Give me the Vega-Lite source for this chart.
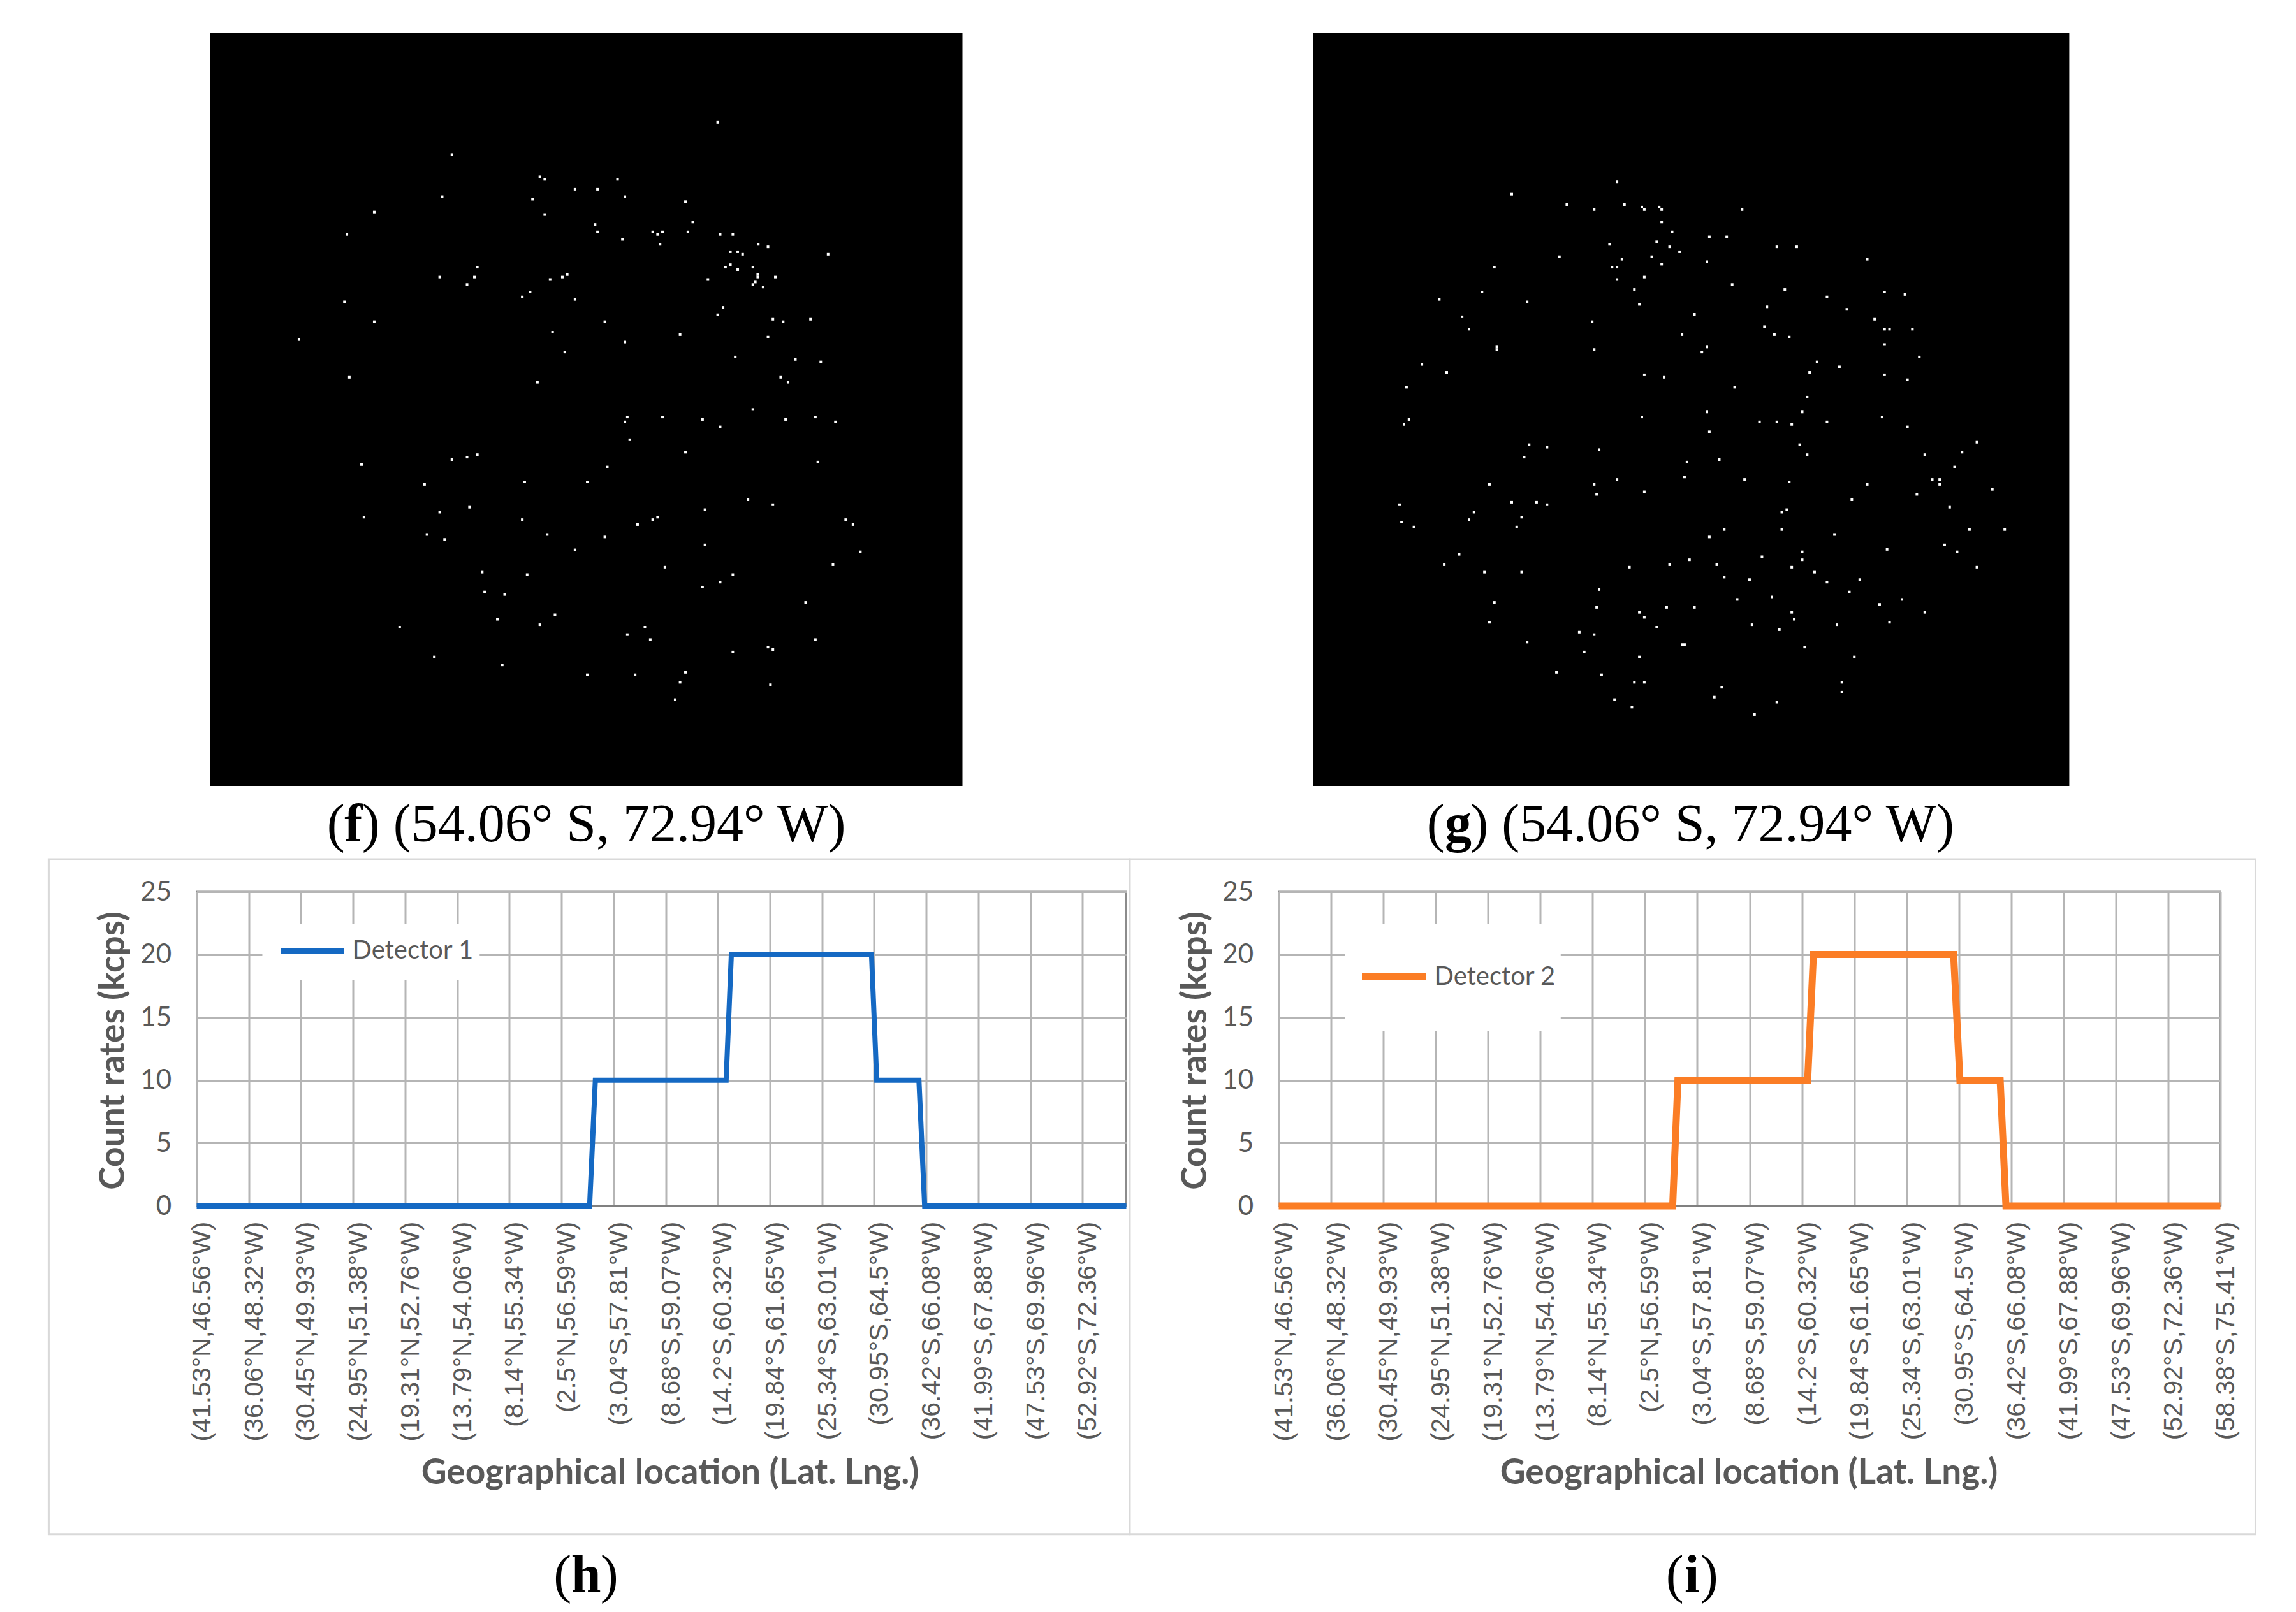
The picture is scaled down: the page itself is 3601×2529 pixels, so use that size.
{"$schema":"https://vega.github.io/schema/vega-lite/v6.json","background":"#ffffff","padding":{"left":72.5,"top":51,"right":60,"bottom":20},"bounds":"flush","columns":2,"spacing":{"row":166,"column":239},"config":{"view":{"stroke":null}},"resolve":{"scale":{"color":"independent","x":"independent","y":"independent"},"legend":{"color":"independent"}},
"concat":[
{"width":1458,"height":1182,"layer":[
{"data":{"values":[{"panel":"f"}]},"mark":{"type":"rect","color":"#000000"},"encoding":{"x":{"datum":12,"type":"quantitative","axis":null,"scale":{"domain":[-15.4,1887.4]}},"x2":{"datum":1552},"y":{"datum":14,"type":"quantitative","axis":null,"scale":{"domain":[1533,14]}},"y2":{"datum":1533}}},
{"data":{"values":[{"x":1051,"y":195},{"x":507,"y":260},{"x":687,"y":305},{"x":697,"y":310},{"x":846,"y":310},{"x":759,"y":330},{"x":805,"y":330},{"x":487,"y":345},{"x":861,"y":345},{"x":672,"y":350},{"x":985,"y":355},{"x":348,"y":376},{"x":697,"y":381},{"x":1000,"y":396},{"x":800,"y":401},{"x":805,"y":416},{"x":918,"y":416},{"x":938,"y":416},{"x":990,"y":416},{"x":928,"y":421},{"x":292,"y":421},{"x":1056,"y":421},{"x":1082,"y":421},{"x":856,"y":431},{"x":933,"y":441},{"x":1134,"y":441},{"x":1154,"y":446},{"x":1077,"y":456},{"x":1092,"y":456},{"x":1102,"y":461},{"x":1277,"y":461},{"x":1077,"y":482},{"x":1067,"y":487},{"x":1123,"y":487},{"x":559,"y":487},{"x":1092,"y":492},{"x":743,"y":502},{"x":1133,"y":502},{"x":1133,"y":507},{"x":482,"y":507},{"x":553,"y":507},{"x":733,"y":507},{"x":1169,"y":507},{"x":708,"y":512},{"x":1031,"y":512},{"x":1128,"y":517},{"x":538,"y":522},{"x":1123,"y":522},{"x":1144,"y":527},{"x":667,"y":537},{"x":651,"y":547},{"x":759,"y":552},{"x":287,"y":557},{"x":1062,"y":568},{"x":1051,"y":583},{"x":1164,"y":592},{"x":1241,"y":592},{"x":348,"y":597},{"x":820,"y":597},{"x":1185,"y":597},{"x":713,"y":618},{"x":974,"y":623},{"x":1154,"y":628},{"x":194,"y":633},{"x":861,"y":638},{"x":738,"y":658},{"x":1087,"y":668},{"x":1210,"y":673},{"x":1262,"y":678},{"x":297,"y":709},{"x":1180,"y":709},{"x":1195,"y":719},{"x":682,"y":719},{"x":1123,"y":774},{"x":866,"y":789},{"x":938,"y":789},{"x":1251,"y":789},{"x":1020,"y":794},{"x":1190,"y":794},{"x":861,"y":799},{"x":1292,"y":799},{"x":1056,"y":809},{"x":871,"y":835},{"x":985,"y":860},{"x":559,"y":865},{"x":538,"y":870},{"x":507,"y":875},{"x":1256,"y":880},{"x":322,"y":885},{"x":825,"y":890},{"x":656,"y":920},{"x":784,"y":920},{"x":451,"y":925},{"x":1113,"y":956},{"x":1164,"y":966},{"x":543,"y":971},{"x":1025,"y":976},{"x":482,"y":981},{"x":327,"y":991},{"x":928,"y":991},{"x":651,"y":996},{"x":918,"y":996},{"x":1313,"y":996},{"x":887,"y":1006},{"x":1328,"y":1006},{"x":456,"y":1026},{"x":702,"y":1026},{"x":820,"y":1031},{"x":492,"y":1036},{"x":1025,"y":1047},{"x":759,"y":1057},{"x":1343,"y":1061},{"x":1287,"y":1087},{"x":943,"y":1092},{"x":569,"y":1102},{"x":661,"y":1107},{"x":1082,"y":1107},{"x":1056,"y":1122},{"x":1020,"y":1132},{"x":574,"y":1142},{"x":615,"y":1147},{"x":1231,"y":1163},{"x":718,"y":1188},{"x":600,"y":1197},{"x":687,"y":1208},{"x":400,"y":1213},{"x":902,"y":1213},{"x":866,"y":1228},{"x":913,"y":1238},{"x":1251,"y":1238},{"x":1154,"y":1253},{"x":1164,"y":1258},{"x":1082,"y":1263},{"x":471,"y":1273},{"x":610,"y":1289},{"x":985,"y":1304},{"x":784,"y":1309},{"x":882,"y":1309},{"x":974,"y":1324},{"x":1159,"y":1329},{"x":964,"y":1359}]},"mark":{"type":"square","color":"#ffffff","size":16,"opacity":1},"encoding":{"x":{"field":"x","type":"quantitative","axis":null,"scale":{"domain":[-15.4,1887.4]}},"y":{"field":"y","type":"quantitative","axis":null,"scale":{"domain":[1533,14]}}}},
{"data":{"values":[{"part":"("}]},"mark":{"type":"text","font":"Liberation Serif","fontSize":84,"color":"#000000","align":"left","baseline":"middle"},"encoding":{"x":{"datum":251,"type":"quantitative","axis":null,"scale":{"domain":[-15.4,1887.4]}},"y":{"datum":1613,"type":"quantitative","axis":null,"scale":{"domain":[1533,14]}},"text":{"field":"part"}}},
{"data":{"values":[{"part":"f"}]},"mark":{"type":"text","font":"Liberation Serif","fontWeight":"bold","fontSize":84,"color":"#000000","align":"left","baseline":"middle"},"encoding":{"x":{"datum":287,"type":"quantitative","axis":null,"scale":{"domain":[-15.4,1887.4]}},"y":{"datum":1613,"type":"quantitative","axis":null,"scale":{"domain":[1533,14]}},"text":{"field":"part"}}},
{"data":{"values":[{"part":") (54.06° S, 72.94° W)"}]},"mark":{"type":"text","font":"Liberation Serif","fontSize":84,"color":"#000000","align":"left","baseline":"middle"},"encoding":{"x":{"datum":323,"type":"quantitative","axis":null,"scale":{"domain":[-15.4,1887.4]}},"y":{"datum":1613,"type":"quantitative","axis":null,"scale":{"domain":[1533,14]}},"text":{"field":"part"}}}
]},
{"width":1477,"height":1182,"layer":[
{"data":{"values":[{"panel":"g"}]},"mark":{"type":"rect","color":"#000000"},"encoding":{"x":{"datum":12,"type":"quantitative","axis":null,"scale":{"domain":[-57.4,1839.5]}},"x2":{"datum":1535},"y":{"datum":14,"type":"quantitative","axis":null,"scale":{"domain":[1533,14]}},"y2":{"datum":1533}}},
{"data":{"values":[{"x":624,"y":315},{"x":412,"y":340},{"x":523,"y":361},{"x":639,"y":361},{"x":578,"y":371},{"x":674,"y":366},{"x":679,"y":371},{"x":709,"y":366},{"x":714,"y":371},{"x":876,"y":371},{"x":714,"y":396},{"x":735,"y":416},{"x":810,"y":426},{"x":845,"y":426},{"x":704,"y":436},{"x":609,"y":441},{"x":730,"y":446},{"x":946,"y":446},{"x":986,"y":446},{"x":750,"y":456},{"x":694,"y":466},{"x":508,"y":466},{"x":634,"y":471},{"x":1128,"y":471},{"x":805,"y":476},{"x":714,"y":481},{"x":377,"y":487},{"x":614,"y":487},{"x":624,"y":487},{"x":679,"y":507},{"x":624,"y":512},{"x":856,"y":522},{"x":659,"y":532},{"x":962,"y":532},{"x":352,"y":537},{"x":1163,"y":537},{"x":1204,"y":542},{"x":1047,"y":547},{"x":266,"y":552},{"x":443,"y":557},{"x":669,"y":562},{"x":926,"y":567},{"x":1087,"y":572},{"x":780,"y":582},{"x":312,"y":587},{"x":1143,"y":592},{"x":574,"y":597},{"x":921,"y":607},{"x":326,"y":612},{"x":1163,"y":612},{"x":1173,"y":612},{"x":1219,"y":612},{"x":755,"y":623},{"x":941,"y":623},{"x":971,"y":628},{"x":1163,"y":643},{"x":382,"y":648},{"x":382,"y":653},{"x":578,"y":653},{"x":805,"y":648},{"x":795,"y":658},{"x":1233,"y":668},{"x":1027,"y":678},{"x":231,"y":683},{"x":1072,"y":688},{"x":281,"y":699},{"x":1012,"y":699},{"x":679,"y":704},{"x":1163,"y":704},{"x":719,"y":709},{"x":1209,"y":714},{"x":200,"y":729},{"x":861,"y":729},{"x":1007,"y":749},{"x":805,"y":779},{"x":997,"y":779},{"x":674,"y":789},{"x":1158,"y":789},{"x":205,"y":794},{"x":195,"y":804},{"x":911,"y":799},{"x":946,"y":799},{"x":1047,"y":799},{"x":976,"y":804},{"x":1209,"y":809},{"x":810,"y":819},{"x":1349,"y":840},{"x":992,"y":845},{"x":447,"y":845},{"x":483,"y":850},{"x":588,"y":855},{"x":1319,"y":860},{"x":1007,"y":865},{"x":1244,"y":865},{"x":437,"y":870},{"x":830,"y":875},{"x":765,"y":880},{"x":1304,"y":890},{"x":760,"y":910},{"x":624,"y":915},{"x":881,"y":915},{"x":1259,"y":915},{"x":1274,"y":915},{"x":971,"y":920},{"x":367,"y":925},{"x":578,"y":925},{"x":1128,"y":925},{"x":1274,"y":925},{"x":1380,"y":935},{"x":679,"y":940},{"x":583,"y":945},{"x":1228,"y":945},{"x":1097,"y":956},{"x":412,"y":961},{"x":462,"y":961},{"x":186,"y":966},{"x":483,"y":966},{"x":1294,"y":971},{"x":966,"y":976},{"x":956,"y":981},{"x":336,"y":981},{"x":432,"y":991},{"x":326,"y":996},{"x":190,"y":1001},{"x":215,"y":1011},{"x":422,"y":1011},{"x":840,"y":1016},{"x":956,"y":1016},{"x":1334,"y":1016},{"x":1405,"y":1016},{"x":1062,"y":1026},{"x":810,"y":1031},{"x":1284,"y":1047},{"x":997,"y":1061},{"x":1168,"y":1056},{"x":1309,"y":1061},{"x":306,"y":1066},{"x":916,"y":1071},{"x":770,"y":1077},{"x":997,"y":1077},{"x":276,"y":1087},{"x":730,"y":1087},{"x":825,"y":1087},{"x":649,"y":1092},{"x":976,"y":1092},{"x":1349,"y":1092},{"x":357,"y":1102},{"x":432,"y":1102},{"x":1022,"y":1102},{"x":840,"y":1112},{"x":891,"y":1117},{"x":1113,"y":1117},{"x":1047,"y":1122},{"x":588,"y":1137},{"x":1092,"y":1142},{"x":936,"y":1152},{"x":866,"y":1157},{"x":1198,"y":1157},{"x":377,"y":1163},{"x":1153,"y":1167},{"x":583,"y":1173},{"x":724,"y":1173},{"x":780,"y":1173},{"x":669,"y":1183},{"x":976,"y":1183},{"x":1244,"y":1183},{"x":679,"y":1193},{"x":981,"y":1197},{"x":367,"y":1203},{"x":1173,"y":1203},{"x":896,"y":1208},{"x":1067,"y":1208},{"x":704,"y":1213},{"x":951,"y":1218},{"x":548,"y":1223},{"x":578,"y":1228},{"x":443,"y":1243},{"x":755,"y":1248},{"x":760,"y":1248},{"x":1002,"y":1253},{"x":558,"y":1263},{"x":669,"y":1273},{"x":1102,"y":1273},{"x":502,"y":1304},{"x":593,"y":1309},{"x":659,"y":1324},{"x":679,"y":1324},{"x":1077,"y":1324},{"x":835,"y":1334},{"x":1077,"y":1344},{"x":820,"y":1354},{"x":619,"y":1359},{"x":946,"y":1364},{"x":654,"y":1374},{"x":901,"y":1389}]},"mark":{"type":"square","color":"#ffffff","size":16,"opacity":1},"encoding":{"x":{"field":"x","type":"quantitative","axis":null,"scale":{"domain":[-57.4,1839.5]}},"y":{"field":"y","type":"quantitative","axis":null,"scale":{"domain":[1533,14]}}}},
{"data":{"values":[{"part":"("}]},"mark":{"type":"text","font":"Liberation Serif","fontSize":84,"color":"#000000","align":"left","baseline":"middle"},"encoding":{"x":{"datum":241,"type":"quantitative","axis":null,"scale":{"domain":[-57.4,1839.5]}},"y":{"datum":1613,"type":"quantitative","axis":null,"scale":{"domain":[1533,14]}},"text":{"field":"part"}}},
{"data":{"values":[{"part":"g"}]},"mark":{"type":"text","font":"Liberation Serif","fontWeight":"bold","fontSize":84,"color":"#000000","align":"left","baseline":"middle"},"encoding":{"x":{"datum":277,"type":"quantitative","axis":null,"scale":{"domain":[-57.4,1839.5]}},"y":{"datum":1613,"type":"quantitative","axis":null,"scale":{"domain":[1533,14]}},"text":{"field":"part"}}},
{"data":{"values":[{"part":") (54.06° S, 72.94° W)"}]},"mark":{"type":"text","font":"Liberation Serif","fontSize":84,"color":"#000000","align":"left","baseline":"middle"},"encoding":{"x":{"datum":329,"type":"quantitative","axis":null,"scale":{"domain":[-57.4,1839.5]}},"y":{"datum":1613,"type":"quantitative","axis":null,"scale":{"domain":[1533,14]}},"text":{"field":"part"}}}
]},
{"width":1458,"height":493,"view":{"stroke":"#8c8c8c","strokeWidth":3},"layer":[
{"data":{"values":[{"panel":"h"}]},"mark":{"type":"rect","fillOpacity":0,"stroke":"#d9d9d9","strokeWidth":3},"encoding":{"x":{"datum":-2.84,"type":"quantitative","scale":{"domain":[0,17.84]}},"x2":{"datum":17.906},"y":{"datum":27.59,"type":"quantitative","scale":{"domain":[0,25]}},"y2":{"datum":-26.1}}},
{"data":{"values":[{"panel":"h"}]},"mark":{"type":"rect","color":"#ffffff"},"encoding":{"x":{"datum":1.26,"type":"quantitative","scale":{"domain":[0,17.84]}},"x2":{"datum":5.43},"y":{"datum":22.46,"type":"quantitative","scale":{"domain":[0,25]}},"y2":{"datum":18.0}}},
{"data":{"values":[{"pos":0,"rate":0,"detector":"Detector 1"},{"pos":7.54,"rate":0,"detector":"Detector 1"},{"pos":7.65,"rate":10,"detector":"Detector 1"},{"pos":10.16,"rate":10,"detector":"Detector 1"},{"pos":10.26,"rate":20,"detector":"Detector 1"},{"pos":12.95,"rate":20,"detector":"Detector 1"},{"pos":13.05,"rate":10,"detector":"Detector 1"},{"pos":13.86,"rate":10,"detector":"Detector 1"},{"pos":13.97,"rate":0,"detector":"Detector 1"},{"pos":17.84,"rate":0,"detector":"Detector 1"}]},"mark":{"type":"line","strokeWidth":8},"encoding":{"x":{"field":"pos","type":"quantitative","scale":{"domain":[0,17.84]},"axis":{"values":[0,1,2,3,4,5,6,7,8,9,10,11,12,13,14,15,16,17],"labelExpr":"['(41.53°N,46.56°W)','(36.06°N,48.32°W)','(30.45°N,49.93°W)','(24.95°N,51.38°W)','(19.31°N,52.76°W)','(13.79°N,54.06°W)','(8.14°N,55.34°W)','(2.5°N,56.59°W)','(3.04°S,57.81°W)','(8.68°S,59.07°W)','(14.2°S,60.32°W)','(19.84°S,61.65°W)','(25.34°S,63.01°W)','(30.95°S,64.5°W)','(36.42°S,66.08°W)','(41.99°S,67.88°W)','(47.53°S,69.96°W)','(52.92°S,72.36°W)'][datum.value]","labelAngle":-90,"labelFont":"Liberation Sans","labelFontSize":41,"labelColor":"#595959","labelPadding":24,"labelOffset":9,"labelOverlap":false,"labelFlush":false,"labelBound":false,"labelLimit":0,"ticks":false,"grid":true,"gridColor":"#b5b5b5","gridWidth":3,"domainColor":"#808080","domainWidth":3,"title":"Geographical location (Lat. Lng.)","titleFont":"Lato","titleFontWeight":"bold","titleFontSize":55,"titleColor":"#595959","titleX":742,"titleY":418,"titleBaseline":"middle"}},"y":{"field":"rate","type":"quantitative","scale":{"domain":[0,25]},"axis":{"values":[0,5,10,15,20,25],"labelFont":"Lato","labelFontSize":42,"labelColor":"#595959","labelPadding":40,"ticks":false,"domain":false,"grid":true,"gridColor":"#b5b5b5","gridWidth":3,"title":"Count rates (kcps)","titleFont":"Lato","titleFontWeight":"bold","titleFontSize":55,"titleColor":"#595959","titleX":-131,"titleY":249,"titleBaseline":"middle"}},"color":{"field":"detector","type":"nominal","scale":{"domain":["Detector 1"],"range":["#1569c3"]},"legend":{"orient":"none","legendX":127,"legendY":38,"title":null,"symbolType":"stroke","symbolSize":10000,"symbolStrokeWidth":9,"labelFont":"Lato","labelFontSize":40,"labelColor":"#595959","labelOffset":8,"labelLimit":400,"padding":0}}}},
{"data":{"values":[{"part":"("}]},"mark":{"type":"text","font":"Liberation Serif","fontSize":84,"color":"#000000","align":"center","baseline":"middle"},"encoding":{"x":{"datum":7.02,"type":"quantitative","scale":{"domain":[0,17.84]}},"y":{"datum":-29.46,"type":"quantitative","scale":{"domain":[0,25]}},"text":{"field":"part"}}},
{"data":{"values":[{"part":"h"}]},"mark":{"type":"text","font":"Liberation Serif","fontWeight":"bold","fontSize":84,"color":"#000000","align":"center","baseline":"middle"},"encoding":{"x":{"datum":7.47,"type":"quantitative","scale":{"domain":[0,17.84]}},"y":{"datum":-29.46,"type":"quantitative","scale":{"domain":[0,25]}},"text":{"field":"part"}}},
{"data":{"values":[{"part":")"}]},"mark":{"type":"text","font":"Liberation Serif","fontSize":84,"color":"#000000","align":"center","baseline":"middle"},"encoding":{"x":{"datum":7.92,"type":"quantitative","scale":{"domain":[0,17.84]}},"y":{"datum":-29.46,"type":"quantitative","scale":{"domain":[0,25]}},"text":{"field":"part"}}}
]},
{"width":1477,"height":493,"view":{"stroke":"#8c8c8c","strokeWidth":3},"layer":[
{"data":{"values":[{"panel":"i"}]},"mark":{"type":"rect","fillOpacity":0,"stroke":"#d9d9d9","strokeWidth":3},"encoding":{"x":{"datum":-2.85,"type":"quantitative","scale":{"domain":[0,18]}},"x2":{"datum":18.67},"y":{"datum":27.59,"type":"quantitative","scale":{"domain":[0,25]}},"y2":{"datum":-26.1}}},
{"data":{"values":[{"panel":"i"}]},"mark":{"type":"rect","color":"#ffffff"},"encoding":{"x":{"datum":1.27,"type":"quantitative","scale":{"domain":[0,18]}},"x2":{"datum":5.39},"y":{"datum":22.46,"type":"quantitative","scale":{"domain":[0,25]}},"y2":{"datum":13.95}}},
{"data":{"values":[{"pos":0,"rate":0,"detector":"Detector 2"},{"pos":7.53,"rate":0,"detector":"Detector 2"},{"pos":7.63,"rate":10,"detector":"Detector 2"},{"pos":10.11,"rate":10,"detector":"Detector 2"},{"pos":10.22,"rate":20,"detector":"Detector 2"},{"pos":12.9,"rate":20,"detector":"Detector 2"},{"pos":13.02,"rate":10,"detector":"Detector 2"},{"pos":13.79,"rate":10,"detector":"Detector 2"},{"pos":13.9,"rate":0,"detector":"Detector 2"},{"pos":18,"rate":0,"detector":"Detector 2"}]},"mark":{"type":"line","strokeWidth":11},"encoding":{"x":{"field":"pos","type":"quantitative","scale":{"domain":[0,18]},"axis":{"values":[0,1,2,3,4,5,6,7,8,9,10,11,12,13,14,15,16,17,18],"labelExpr":"['(41.53°N,46.56°W)','(36.06°N,48.32°W)','(30.45°N,49.93°W)','(24.95°N,51.38°W)','(19.31°N,52.76°W)','(13.79°N,54.06°W)','(8.14°N,55.34°W)','(2.5°N,56.59°W)','(3.04°S,57.81°W)','(8.68°S,59.07°W)','(14.2°S,60.32°W)','(19.84°S,61.65°W)','(25.34°S,63.01°W)','(30.95°S,64.5°W)','(36.42°S,66.08°W)','(41.99°S,67.88°W)','(47.53°S,69.96°W)','(52.92°S,72.36°W)','(58.38°S,75.41°W)'][datum.value]","labelAngle":-90,"labelFont":"Liberation Sans","labelFontSize":41,"labelColor":"#595959","labelPadding":24,"labelOffset":9,"labelOverlap":false,"labelFlush":false,"labelBound":false,"labelLimit":0,"ticks":false,"grid":true,"gridColor":"#b5b5b5","gridWidth":3,"domainColor":"#808080","domainWidth":3,"title":"Geographical location (Lat. Lng.)","titleFont":"Lato","titleFontWeight":"bold","titleFontSize":55,"titleColor":"#595959","titleX":737,"titleY":418,"titleBaseline":"middle"}},"y":{"field":"rate","type":"quantitative","scale":{"domain":[0,25]},"axis":{"values":[0,5,10,15,20,25],"labelFont":"Lato","labelFontSize":42,"labelColor":"#595959","labelPadding":40,"ticks":false,"domain":false,"grid":true,"gridColor":"#b5b5b5","gridWidth":3,"title":"Count rates (kcps)","titleFont":"Lato","titleFontWeight":"bold","titleFontSize":55,"titleColor":"#595959","titleX":-131,"titleY":249,"titleBaseline":"middle"}},"color":{"field":"detector","type":"nominal","scale":{"domain":["Detector 2"],"range":["#fb7d25"]},"legend":{"orient":"none","legendX":125,"legendY":78,"title":null,"symbolType":"stroke","symbolSize":10000,"symbolStrokeWidth":11,"labelFont":"Lato","labelFontSize":40,"labelColor":"#595959","labelOffset":8,"labelLimit":400,"padding":0}}}},
{"data":{"values":[{"part":"("}]},"mark":{"type":"text","font":"Liberation Serif","fontSize":84,"color":"#000000","align":"center","baseline":"middle"},"encoding":{"x":{"datum":7.57,"type":"quantitative","scale":{"domain":[0,18]}},"y":{"datum":-29.46,"type":"quantitative","scale":{"domain":[0,25]}},"text":{"field":"part"}}},
{"data":{"values":[{"part":"i"}]},"mark":{"type":"text","font":"Liberation Serif","fontWeight":"bold","fontSize":84,"color":"#000000","align":"center","baseline":"middle"},"encoding":{"x":{"datum":7.9,"type":"quantitative","scale":{"domain":[0,18]}},"y":{"datum":-29.46,"type":"quantitative","scale":{"domain":[0,25]}},"text":{"field":"part"}}},
{"data":{"values":[{"part":")"}]},"mark":{"type":"text","font":"Liberation Serif","fontSize":84,"color":"#000000","align":"center","baseline":"middle"},"encoding":{"x":{"datum":8.23,"type":"quantitative","scale":{"domain":[0,18]}},"y":{"datum":-29.46,"type":"quantitative","scale":{"domain":[0,25]}},"text":{"field":"part"}}}
]}
]}
